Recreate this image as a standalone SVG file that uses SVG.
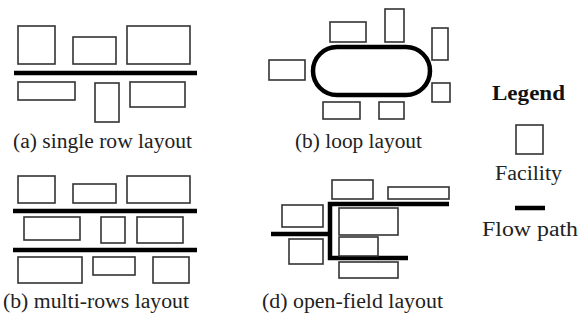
<svg xmlns="http://www.w3.org/2000/svg" width="579" height="320" viewBox="0 0 579 320">
<style>
.fac{fill:#fff;stroke:#333;stroke-width:1.6}
.flow{fill:none;stroke:#000;stroke-width:4.5;stroke-linecap:butt}
.lbl{font-family:'Liberation Serif','Times New Roman',Tinos,'DejaVu Serif',serif;font-size:20px;fill:#222}
.leg{font-family:'Liberation Serif','Times New Roman',Tinos,'DejaVu Serif',serif;font-size:20px;font-weight:bold;fill:#111}
</style>
<rect width="579" height="320" fill="#fff"/>
<g id="connectors">
<line class="flow" x1="14" y1="73" x2="197" y2="73"/>
<rect class="flow" x="313" y="47" width="117" height="48" rx="24"/>
<line class="flow" x1="13" y1="211" x2="197" y2="211"/>
<line class="flow" x1="13" y1="250" x2="197" y2="250"/>
<polyline class="flow" points="449,204 330,204 330,258 408,258"/>
<line class="flow" x1="271" y1="234" x2="330" y2="234"/>
<line class="flow" x1="515" y1="208" x2="545" y2="208"/>
</g>
<g id="single-row">
<rect class="fac" x="18" y="26" width="37" height="38"/>
<rect class="fac" x="73" y="37" width="43" height="27"/>
<rect class="fac" x="127" y="26" width="63" height="38"/>
<rect class="fac" x="18" y="82" width="57" height="18"/>
<rect class="fac" x="95" y="83" width="24" height="39"/>
<rect class="fac" x="130" y="82" width="55" height="25"/>
<text class="lbl" x="13" y="148" textLength="179" lengthAdjust="spacingAndGlyphs">(a) single row layout</text>
</g>
<g id="loop">
<rect class="fac" x="330" y="22" width="36" height="20"/>
<rect class="fac" x="385" y="9" width="19" height="33"/>
<rect class="fac" x="432" y="28" width="16" height="32"/>
<rect class="fac" x="432" y="83" width="18" height="19"/>
<rect class="fac" x="269" y="60" width="36" height="20"/>
<rect class="fac" x="323" y="102" width="37" height="17"/>
<rect class="fac" x="379" y="102" width="25" height="17"/>
<text class="lbl" x="295" y="148" textLength="127" lengthAdjust="spacingAndGlyphs">(b) loop layout</text>
</g>
<g id="multi-rows">
<rect class="fac" x="18" y="176" width="37" height="27"/>
<rect class="fac" x="73" y="184" width="43" height="19"/>
<rect class="fac" x="127" y="176" width="63" height="27"/>
<rect class="fac" x="24" y="217" width="56" height="23"/>
<rect class="fac" x="101" y="217" width="24" height="26"/>
<rect class="fac" x="137" y="217" width="46" height="26"/>
<rect class="fac" x="18" y="257" width="64" height="26"/>
<rect class="fac" x="93" y="257" width="42" height="18"/>
<rect class="fac" x="153" y="257" width="36" height="26"/>
<text class="lbl" x="3" y="308" textLength="186" lengthAdjust="spacingAndGlyphs">(b) multi-rows layout</text>
</g>
<g id="open-field">
<rect class="fac" x="332" y="180" width="41" height="19"/>
<rect class="fac" x="388" y="187" width="61" height="12"/>
<rect class="fac" x="339" y="208" width="59" height="27"/>
<rect class="fac" x="339" y="237" width="39" height="19"/>
<rect class="fac" x="282" y="205" width="41" height="22"/>
<rect class="fac" x="289" y="239" width="34" height="25"/>
<rect class="fac" x="339" y="262" width="59" height="16"/>
<text class="lbl" x="262" y="308" textLength="181" lengthAdjust="spacingAndGlyphs">(d) open-field layout</text>
</g>
<g id="legend">
<text class="leg" x="492" y="100" textLength="73" lengthAdjust="spacingAndGlyphs">Legend</text>
<rect class="fac" x="516" y="125" width="27" height="29"/>
<text class="lbl" x="495" y="180" textLength="67" lengthAdjust="spacingAndGlyphs">Facility</text>
<text class="lbl" x="482" y="236" textLength="96" lengthAdjust="spacingAndGlyphs">Flow path</text>
</g>
</svg>
